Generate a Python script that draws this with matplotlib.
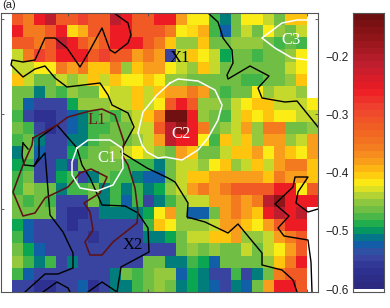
import numpy as np
import matplotlib
matplotlib.use('Agg')
import matplotlib.pyplot as plt
from matplotlib.colors import LinearSegmentedColormap

nan = np.nan

row00 = [nan,-.315,-.355,-.255,-.21,-.315,-.315,-.285,-.315,-.315,-.21,-.255,-.315,-.315,-.255,-.255,-.38,-.42,-.42,-.48,-.51,-.465,-.42,-.42,-.435,-.465,-.40,-.40,nan]
row01 = [nan,-.255,-.355,-.355,-.315,-.255,-.41,-.39,-.315,-.315,-.255,-.255,-.315,-.315,-.315,-.355,-.42,-.41,-.39,-.48,-.525,-.465,-.435,-.465,-.42,-.45,-.465,-.435,nan]
row02 = [nan,-.315,-.315,-.355,-.315,-.21,-.255,-.315,-.355,-.315,-.255,-.255,-.255,-.315,-.355,-.40,-.45,-.45,-.40,-.465,-.465,-.45,-.45,-.45,-.465,-.48,-.47,-.48,nan]
row03 = [nan,-.435,-.355,-.285,-.315,-.255,-.255,-.255,-.315,-.285,-.315,-.315,-.38,-.355,-.38,-.55,-.435,-.40,-.42,-.435,-.497,-.465,-.465,-.48,-.465,-.465,-.45,-.42,nan]
row04 = [nan,-.435,-.435,-.42,-.42,-.355,-.38,-.355,-.40,-.40,-.355,-.45,-.40,-.38,-.38,-.42,-.435,-.45,-.40,-.435,-.465,-.465,-.465,-.465,-.465,-.465,-.435,-.42,nan]
row05 = [nan,-.40,-.435,-.465,-.465,-.435,-.45,-.435,-.40,-.435,-.40,-.42,-.42,-.40,-.42,-.45,-.45,-.465,-.465,-.465,-.465,-.465,-.48,-.48,-.465,-.465,-.45,-.40,nan]
row06 = [nan,-.465,-.465,-.51,-.465,-.48,-.45,-.465,-.465,-.42,-.435,-.435,-.40,-.435,-.40,-.38,-.38,-.355,-.38,-.465,-.48,-.465,-.465,-.42,-.45,-.435,-.435,-.45,nan]
row07 = [nan,-.465,-.525,-.55,-.55,-.55,-.497,-.45,-.45,-.45,-.435,-.435,-.40,-.435,-.42,-.315,-.255,-.315,-.45,-.45,-.465,-.435,-.42,-.40,-.40,-.435,-.435,-.435,-.42]
row08 = [nan,-.48,-.55,-.57,-.57,-.55,-.525,-.51,-.48,-.465,-.48,-.45,-.435,-.40,-.355,-.13,-.13,-.255,-.45,-.465,-.48,-.435,-.40,-.42,-.40,-.42,-.42,-.435,-.435]
row09 = [nan,-.465,-.48,-.55,-.57,-.55,-.525,-.51,-.48,-.48,-.465,-.465,-.435,-.435,-.315,-.21,-.16,-.255,-.355,-.465,-.45,-.435,-.38,-.45,-.355,-.355,-.465,-.465,-.45]
row10 = [nan,-.48,-.465,-.51,-.55,-.55,-.51,-.51,-.48,-.465,-.465,-.465,-.45,-.435,-.38,-.21,-.255,-.255,-.42,-.48,-.40,-.435,-.40,-.45,-.38,-.38,-.45,-.435,-.38]
row11 = [nan,-.51,-.465,-.525,-.55,-.55,-.497,-.48,-.465,-.465,-.45,-.435,-.42,-.435,-.45,-.465,-.38,-.40,-.465,-.465,-.435,-.40,-.40,-.38,-.42,-.38,-.40,-.42,-.38]
row12 = [nan,-.497,-.48,-.55,-.55,-.51,-.55,-.465,-.465,-.465,-.465,-.48,-.48,-.48,-.51,-.465,-.435,-.435,-.45,-.42,-.40,-.45,-.435,-.40,-.435,-.38,-.355,-.355,-.40]
row13 = [nan,-.48,-.465,-.55,-.55,-.497,-.48,-.55,-.51,-.465,-.48,-.48,-.51,-.525,-.525,-.465,-.435,-.40,-.40,-.38,-.38,-.38,-.38,-.38,-.40,-.355,-.38,-.38,-.40]
row14 = [nan,-.48,-.45,-.465,-.465,-.51,-.48,-.48,-.465,-.51,-.48,-.51,-.48,-.51,-.497,-.45,-.435,-.38,-.355,-.38,-.355,-.315,-.315,-.315,-.315,-.255,-.255,-.42,-.315]
row15 = [nan,-.465,-.48,-.465,-.48,-.55,-.55,-.55,-.465,-.51,-.48,-.525,-.48,-.55,-.51,-.48,-.45,-.435,-.435,-.38,-.38,-.355,-.38,-.355,-.21,-.16,-.255,-.255,-.255]
row16 = [nan,-.465,-.465,-.465,-.465,-.55,-.57,-.57,-.55,-.51,-.51,-.51,-.51,-.497,-.42,-.38,-.45,-.525,-.525,-.465,-.38,-.355,-.38,-.40,-.255,-.21,-.255,-.21,nan]
row17 = [nan,-.497,-.525,-.55,-.55,-.55,-.57,-.55,-.55,-.55,-.55,-.55,-.55,-.48,-.40,-.42,-.45,-.45,-.45,-.435,-.38,-.38,-.40,-.42,-.38,-.315,-.255,-.255,nan]
row18 = [nan,-.48,-.525,-.55,-.55,-.55,-.55,-.55,-.565,-.55,-.55,-.55,-.55,-.51,-.51,-.497,-.465,-.435,-.435,-.40,-.40,-.38,-.45,-.45,-.435,-.38,-.355,-.315,nan]
row19 = [nan,-.465,-.497,-.525,-.55,-.55,-.55,-.55,-.55,-.55,-.55,-.55,-.55,-.55,-.55,-.55,-.465,-.45,-.465,-.45,-.465,-.465,-.435,-.465,-.435,-.42,-.38,-.315,nan]
row20 = [nan,-.45,-.48,-.51,-.48,-.55,-.51,-.55,-.55,-.55,-.55,-.55,-.55,-.465,-.465,-.51,-.51,-.48,-.497,-.525,-.465,-.465,-.465,-.465,-.45,-.40,-.355,-.255,nan]
row21 = [nan,-.48,-.525,-.55,-.55,-.55,-.55,-.55,-.55,-.55,-.51,-.465,-.48,-.465,-.45,-.45,-.525,-.497,-.51,-.55,-.55,-.48,-.55,-.51,-.465,-.355,-.315,-.315,nan]
row22 = [nan,-.55,-.55,-.57,-.57,-.55,-.55,-.525,-.57,-.55,-.51,-.51,-.48,-.465,-.45,-.465,-.51,-.497,-.51,-.525,-.55,-.51,-.525,-.465,-.38,-.255,-.255,-.315,nan]

grid = np.array([row00,row01,row02,row03,row04,row05,row06,row07,row08,row09,row10,row11,
                 row12,row13,row14,row15,row16,row17,row18,row19,row20,row21,row22])

# contours, in picture pixels
black_a_x = [114,128,131,128,115,110,102,90,80,67,55,45,35,23,12,11,23,35,45,55,67,100,108,112,128,134,123,121,147,168,175,188,187,205,228,238,262,262,282,293,297]
black_a_y = [13,23,35,43,53,50,28,50,67,48,38,38,60,62,60,65,77,69,66,78,87,83,95,105,113,127,147,152,168,178,182,203,217,222,233,224,253,265,270,280,292]
black_b_x = [208,218,223,232,233,227,228,250,269,258,262,285,297,318]
black_b_y = [13,22,38,50,63,75,79,66,76,88,98,102,101,127]
black_c_x = [318,308,296,298,308,295,293,275,289,278,284,308,311,312]
black_c_y = [209,212,203,192,177,177,187,204,216,228,236,240,262,292]
black_d_x = [23,22,24,34,45,50,63,73,73,58,45,25]
black_d_y = [143,155,165,166,153,215,232,253,268,274,274,292]
black_e_x = [23,28]
black_e_y = [143,149]
black_f_x = [34,39,39,57,77,82,90,102,125,138,148,149,121,117]
black_f_y = [166,157,138,125,148,165,178,205,206,213,228,252,267,292]
black_g_x = [43,57,68,70]
black_g_y = [292,282,288,292]
black_h_x = [88,102,117]
black_h_y = [292,282,292]

red_x = [33,57,68,90,102,115,124,122,128,135,138,137,113,102,90,85,93,90,84,100,107,91,80,68,45,35,23,13,23,32,33]
red_y = [138,125,117,111,109,115,142,155,165,188,212,223,242,255,255,242,230,212,203,193,177,169,173,187,198,213,216,192,165,145,138]

c1_x = [77,88,110,122,123,113,97,80,72,72,77]
c1_y = [148,140,140,148,168,185,191,188,175,162,148]
c2_x = [170,157,143,138,142,147,158,165,182,198,208,218,222,215,198,178,170]
c2_y = [83,95,112,133,145,152,158,157,160,150,138,120,105,90,81,79,83]
c3_a_x = [308,297,282,262,275,292,308]
c3_a_y = [20,20,23,38,48,58,60]

label_names = ['X1','L1','C1','C2','C3','X2']
label_x = [180,97,107,181,291,133]
label_y = [58,120,158,134,40,245]
label_colors = ['k','#6b1d1d','w','w','w','k']

cbar_ticks = [-0.2,-0.3,-0.4,-0.5,-0.6]
cb_vals = [-.6,-.57,-.545,-.525,-.51,-.497,-.48,-.465,-.45,-.435,-.42,-.40,-.38,-.355,-.315,-.285,-.255,-.21,-.16,-.125]
cb_cols = ['#2b2a80','#2e3192','#3b4ba3','#0f5fa8','#007f7a','#0aa84f','#45b649','#74bf44','#96ca3e','#c9da2b',
           '#fcee16','#ffc20e','#f99d1c','#f47b20','#f15a24','#ef4130','#ed1c24','#be1e2d','#8f1518','#6d0f10']

vmin, vmax = -0.6, -0.125
stops = [(v-vmin)/(vmax-vmin) for v in cb_vals]
cmap = LinearSegmentedColormap.from_list('jetish', list(zip(stops, cb_cols)), N=256)
cmap_bar = LinearSegmentedColormap.from_list('jetish40', list(zip(stops, cb_cols)), N=40)

plt.rcParams['font.family'] = ['Liberation Sans', 'DejaVu Sans']
W, H = 390, 308
fig = plt.figure(figsize=(W/100, H/100), dpi=100)

ax = fig.add_axes([1/W, 1-292/H, 317/W, 279/H])
xedges = np.linspace(1, 318, grid.shape[1]+1)
yedges = np.linspace(13, 292, grid.shape[0]+1)
ax.pcolormesh(xedges, yedges, grid, cmap=cmap, vmin=vmin, vmax=vmax)
ax.set_xlim(1, 318)
ax.set_ylim(292, 13)

for lx, ly in [(black_a_x,black_a_y),(black_b_x,black_b_y),(black_c_x,black_c_y),(black_d_x,black_d_y),
               (black_e_x,black_e_y),(black_f_x,black_f_y),(black_g_x,black_g_y),(black_h_x,black_h_y)]:
    ax.plot(lx, ly, color='k', lw=1.0)
ax.plot(red_x, red_y, color='#5e1216', lw=1.15)
ax.plot(c1_x, c1_y, color='w', lw=1.1)
ax.plot(c2_x, c2_y, color='w', lw=1.1)
ax.plot(c3_a_x, c3_a_y, color='w', lw=1.1)

for s, x, y, c in zip(label_names, label_x, label_y, label_colors):
    ax.text(x, y, s, color=c, fontsize=12, family='Liberation Serif', ha='center', va='center')

ax.set_xticks([68,148,227,307])
ax.set_yticks([19,114,209])
ax.tick_params(direction='in', length=2.5, width=0.6, color='#444444', top=True, right=True,
               labelbottom=False, labelleft=False)
for sp in ax.spines.values():
    sp.set_color('#555555')
    sp.set_linewidth(0.8)

fig.text(2/W, 1-4.5/H, '(a)', fontsize=8, va='center', ha='left', color='#222222')

cax = fig.add_axes([353/W, 1-292/H, 31/W, 279/H])
levels = np.linspace(vmin, vmax, 41)
cax.pcolormesh([0,1], levels, ((levels[:-1]+levels[1:])/2)[:,None], cmap=cmap_bar, vmin=vmin, vmax=vmax)
cax.set_xlim(0, 1)
cax.set_ylim(-0.605, vmax)
cax.set_xticks([])
cax.set_yticks(cbar_ticks)
cax.set_yticklabels(['\u22120.2','\u22120.3','\u22120.4','\u22120.5','\u22120.6'], fontsize=8.5, color='#222222')
cax.tick_params(axis='y', length=0, pad=3)
for sp in cax.spines.values():
    sp.set_color('#555555')
    sp.set_linewidth(0.8)

fig.savefig('out.png', dpi=100)
